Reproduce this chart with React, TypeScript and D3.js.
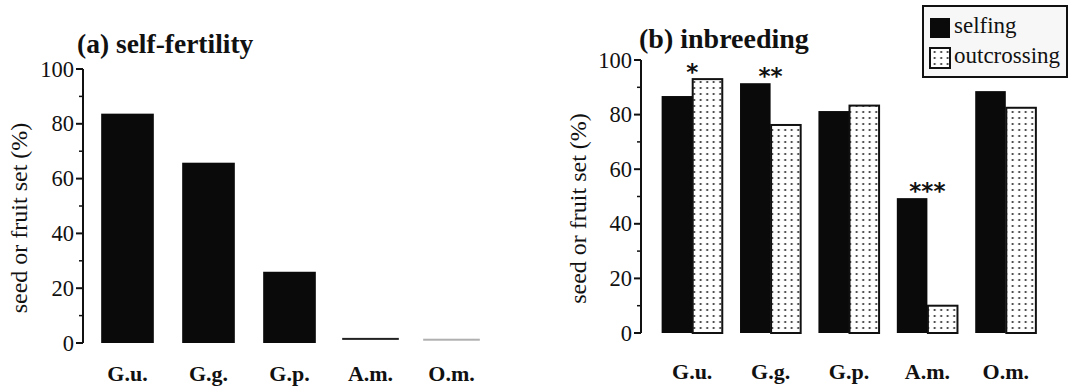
import React, { useEffect, useRef } from "react";
import * as d3 from "d3";

const categories = ["G.u.", "G.g.", "G.p.", "A.m.", "O.m."];
const selfFertility = [83.7, 65.8, 26, 1.5, 1.2];
const selfing = [86.8, 91.5, 81.3, 49.4, 88.6];
const outcrossing = [93, 76.2, 83.3, 10, 82.5];
const significance = ["*", "**", "", "***", ""];
const yTicks = [0, 20, 40, 60, 80, 100];
const yMinorTicks = [10, 30, 50, 70, 90];
const seriesNames = ["selfing", "outcrossing"];
const yLabel = "seed or fruit set (%)";
const titleA = "(a) self-fertility";
const titleB = "(b) inbreeding";

const FONT = "Liberation Serif";
const thinColors = ["#111", "#111", "#111", "#222", "#b0b0b0"];

function drawYAxis(g: any, y: any, x: number, labelX: number) {
  const ax = g.append("g");
  ax.append("line")
    .attr("x1", x).attr("x2", x)
    .attr("y1", y(0)).attr("y2", y(100))
    .attr("stroke", "#111").attr("stroke-width", 2);
  yTicks.forEach((t) => {
    ax.append("line")
      .attr("x1", x - 7).attr("x2", x)
      .attr("y1", y(t)).attr("y2", y(t))
      .attr("stroke", "#111").attr("stroke-width", 2);
    ax.append("text")
      .attr("x", x - 9).attr("y", y(t) + 7.5)
      .attr("text-anchor", "end")
      .style("font-family", FONT).style("font-size", "22.5px")
      .attr("fill", "#111")
      .text(String(t));
  });
  yMinorTicks.forEach((t) => {
    ax.append("line")
      .attr("x1", x - 4).attr("x2", x)
      .attr("y1", y(t)).attr("y2", y(t))
      .attr("stroke", "#111").attr("stroke-width", 1.5);
  });
  const cy = (y(0) + y(100)) / 2 + 12;
  ax.append("text")
    .attr("transform", `translate(${labelX},${cy}) rotate(-90)`)
    .attr("text-anchor", "middle")
    .style("font-family", FONT).style("font-size", "24px")
    .attr("fill", "#111")
    .text(yLabel);
}

function drawXLabels(g: any, x: any, yPos: number) {
  categories.forEach((c) => {
    g.append("text")
      .attr("x", (x(c) as number) + x.bandwidth() / 2)
      .attr("y", yPos)
      .attr("text-anchor", "middle")
      .style("font-family", FONT).style("font-size", "22px")
      .style("font-weight", "bold")
      .attr("fill", "#111")
      .text(c);
  });
}

export default function App() {
  const ref = useRef<SVGSVGElement>(null);

  useEffect(() => {
    const svg = d3.select(ref.current);
    svg.selectAll("*").remove();

    const defs = svg.append("defs");
    const pat = defs.append("pattern")
      .attr("id", "dots")
      .attr("patternUnits", "userSpaceOnUse")
      .attr("width", 6.5).attr("height", 6)
      .attr("x", 2).attr("y", 1);
    pat.append("rect").attr("width", 6.5).attr("height", 6).attr("fill", "#fff");
    pat.append("circle").attr("cx", 3.2).attr("cy", 3).attr("r", 1.05).attr("fill", "#222");

    // ---------- Panel (a) ----------
    const gA = svg.append("g");
    const yA = d3.scaleLinear().domain([0, 100]).range([343, 69]);
    const xA = d3.scaleBand().domain(categories).range([87, 492])
      .paddingInner(0.35).paddingOuter(0.175);

    drawYAxis(gA, yA, 83, 27);

    categories.forEach((c, i) => {
      const v = selfFertility[i];
      if (v < 3) {
        gA.append("rect")
          .attr("x", (xA(c) as number) - 2)
          .attr("width", xA.bandwidth() + 4)
          .attr("y", yA(v) - 1)
          .attr("height", 2)
          .attr("fill", thinColors[i]);
      } else {
        gA.append("rect")
          .attr("x", xA(c) as number)
          .attr("width", xA.bandwidth())
          .attr("y", yA(v))
          .attr("height", yA(0) - yA(v))
          .attr("fill", "#0a0a0a");
      }
    });
    drawXLabels(gA, xA, 381);
    gA.append("text")
      .attr("x", 77).attr("y", 53)
      .style("font-family", FONT).style("font-size", "27.5px")
      .style("font-weight", "bold").attr("fill", "#111")
      .text(titleA);

    // ---------- Panel (b) ----------
    const gB = svg.append("g");
    const yB = d3.scaleLinear().domain([0, 100]).range([333, 60]);
    const xB = d3.scaleBand().domain(categories).range([653, 1045])
      .paddingInner(0.22).paddingOuter(0.11);
    const xs = d3.scaleBand().domain(seriesNames).range([0, xB.bandwidth()]);

    drawYAxis(gB, yB, 641, 586);

    categories.forEach((c, i) => {
      const x0 = xB(c) as number;
      const s = selfing[i];
      const o = outcrossing[i];
      gB.append("rect")
        .attr("x", x0 + (xs("selfing") as number))
        .attr("width", xs.bandwidth())
        .attr("y", yB(s))
        .attr("height", yB(0) - yB(s))
        .attr("fill", "#0a0a0a");
      gB.append("rect")
        .attr("x", x0 + (xs("outcrossing") as number) + 0.5)
        .attr("width", xs.bandwidth() - 1)
        .attr("y", yB(o))
        .attr("height", yB(0) - yB(o))
        .attr("fill", "url(#dots)")
        .attr("stroke", "#111").attr("stroke-width", 2);
      if (significance[i]) {
        const top = yB(Math.max(s, o));
        gB.append("text")
          .attr("x", x0 + xB.bandwidth() / 2)
          .attr("y", top + 1)
          .attr("text-anchor", "middle")
          .style("font-family", "DejaVu Sans").style("font-size", "23px")
          .style("font-weight", "bold")
          .attr("fill", "#111")
          .text(significance[i]);
      }
    });
    drawXLabels(gB, xB, 379);
    gB.append("text")
      .attr("x", 639).attr("y", 48)
      .style("font-family", FONT).style("font-size", "28px")
      .style("font-weight", "bold").attr("fill", "#111")
      .text(titleB);

    // Legend
    const lg = svg.append("g");
    lg.append("rect")
      .attr("x", 923).attr("y", 6).attr("width", 144).attr("height", 71)
      .attr("fill", "#f7f7f7").attr("stroke", "#111").attr("stroke-width", 2);
    seriesNames.forEach((n, i) => {
      const yy = 18 + i * 30;
      lg.append("rect")
        .attr("x", 930).attr("y", yy).attr("width", 20).attr("height", 20)
        .attr("fill", i === 0 ? "#0a0a0a" : "url(#dots)")
        .attr("stroke", "#111").attr("stroke-width", i === 0 ? 0 : 2);
      lg.append("text")
        .attr("x", 954).attr("y", yy + 15)
        .style("font-family", FONT).style("font-size", "23px")
        .attr("fill", "#111")
        .text(n);
    });
  }, []);

  return (
    <svg
      ref={ref}
      width={1074}
      height={388}
      style={{ position: "absolute", left: 0, top: 0, background: "#fff" }}
    />
  );
}
